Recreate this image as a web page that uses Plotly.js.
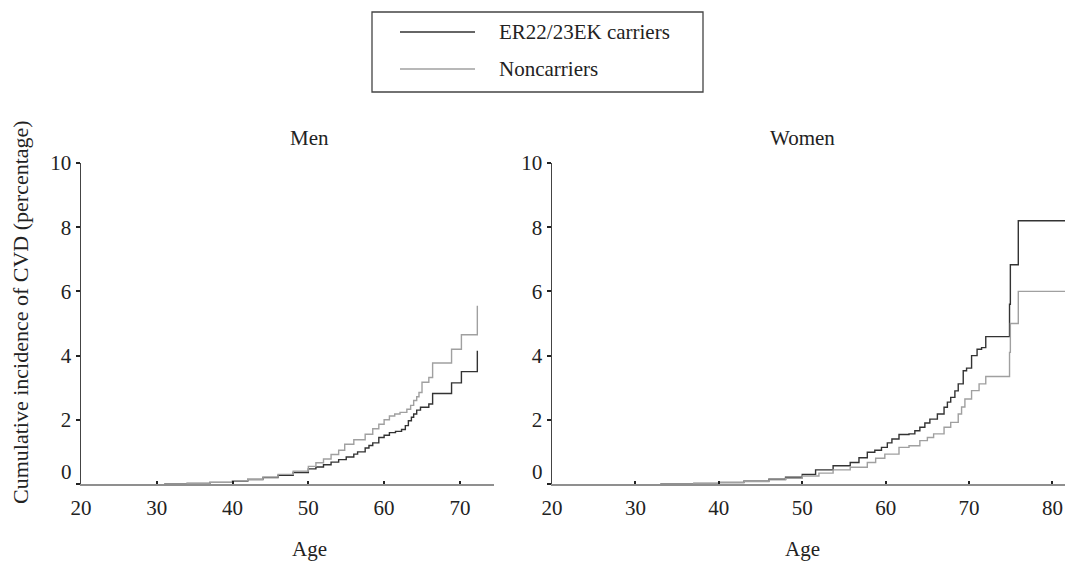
<!DOCTYPE html>
<html>
<head>
<meta charset="utf-8">
<script src="https://cdn.plot.ly/plotly-3.0.1.min.js"></script>
<style>html,body{margin:0;padding:0;background:#fff;}#chart{width:1065px;height:561px;}</style>
</head>
<body>
<div id="chart"></div>
<script>
// ---- Data ----
const seriesNames = ["ER22/23EK carriers", "Noncarriers"];
const panelTitles = ["Men", "Women"];
const yTickVals = [0, 2, 4, 6, 8, 10];
const xTickValsMen = [20, 30, 40, 50, 60, 70];
const xTickValsWomen = [20, 30, 40, 50, 60, 70, 80];

const menCarrierAge = [31, 34, 37, 40, 42, 44, 46, 48, 50, 51, 52, 53, 54, 55, 56, 56.5, 57.5, 58, 58.5, 59.3, 60, 60.7, 61.5, 62.3, 62.8, 63.2, 63.6, 63.9, 64.3, 64.8, 65.9, 66.4, 68.9, 70.2, 72.3];
const menCarrierVal = [0, 0.02, 0.05, 0.09, 0.14, 0.2, 0.27, 0.36, 0.47, 0.53, 0.6, 0.68, 0.76, 0.84, 0.93, 1.0, 1.12, 1.2, 1.28, 1.45, 1.52, 1.6, 1.64, 1.7, 1.82, 1.97, 2.08, 2.18, 2.3, 2.39, 2.49, 2.82, 3.15, 3.5, 4.15];

const menNonAge = [31, 34, 37, 40, 42, 44, 46, 48, 50, 51, 52, 53, 54, 54.8, 56, 57.5, 58.5, 59.3, 60, 60.7, 61.4, 62.1, 63, 63.5, 63.9, 64.3, 64.6, 65, 65.9, 66.4, 68.9, 70.2, 72.3];
const menNonVal = [0, 0.02, 0.05, 0.1, 0.15, 0.22, 0.3, 0.4, 0.55, 0.66, 0.78, 0.92, 1.05, 1.24, 1.38, 1.55, 1.72, 1.86, 2.0, 2.12, 2.18, 2.23, 2.33, 2.45, 2.6, 2.72, 2.85, 3.17, 3.32, 3.77, 4.2, 4.65, 5.55];

const womenCarrierAge = [33, 37, 40, 43, 46, 48, 50, 51.6, 53.7, 55.75, 56.8, 57.8, 58.7, 59.5, 60.2, 60.75, 61.6, 62.8, 63.5, 64.1, 64.7, 65.3, 66.2, 67, 67.4, 67.8, 68.3, 68.7, 69.3, 69.7, 70.3, 70.96, 71.5, 72, 74.85, 74.95, 75.9, 81.5];
const womenCarrierVal = [0, 0.02, 0.05, 0.09, 0.15, 0.21, 0.3, 0.44, 0.57, 0.67, 0.82, 0.99, 1.05, 1.14, 1.28, 1.4, 1.54, 1.56, 1.66, 1.77, 1.9, 2.02, 2.18, 2.39, 2.55, 2.7, 2.9, 3.12, 3.53, 3.61, 4.0, 4.2, 4.25, 4.59, 5.6, 6.83, 8.2, 8.2];

const womenNonAge = [33, 37, 40, 43, 46, 48, 50, 52, 53.7, 55.75, 57.8, 58.8, 59.9, 61.6, 62.8, 64.1, 65, 65.75, 67, 67.8, 68.7, 69.1, 69.5, 70.3, 71.2, 72, 74.85, 74.95, 75.9, 81.5];
const womenNonVal = [0, 0.02, 0.04, 0.08, 0.13, 0.18, 0.25, 0.34, 0.44, 0.52, 0.67, 0.8, 0.93, 1.14, 1.19, 1.35, 1.45, 1.56, 1.77, 1.92, 2.18, 2.4, 2.65, 2.91, 3.12, 3.35, 4.1, 5.0, 6.0, 6.0];

// ---- Layout geometry ----
const W = 1065, H = 561;
const plotTop = 163, plotBottom = 484;
const px = v => v / W;
const py = v => (plotBottom - v) / (plotBottom - plotTop);
const font = "Liberation Serif, Times New Roman, serif";
const textCol = "#222";
const darkCol = "#333333", lightCol = "#a0a0a0";
const fs = 21;

function trace(x, y, col, xa, ya, name) {
  return {x: x, y: y, type: "scatter", mode: "lines", name: name,
    line: {shape: "hv", color: col, width: 1.4}, xaxis: xa, yaxis: ya,
    showlegend: false, hoverinfo: "x+y"};
}

const data = [
  trace(menCarrierAge, menCarrierVal, darkCol, "x", "y", seriesNames[0]),
  trace(menNonAge, menNonVal, lightCol, "x", "y", seriesNames[1]),
  trace(womenCarrierAge, womenCarrierVal, darkCol, "x2", "y2", seriesNames[0]),
  trace(womenNonAge, womenNonVal, lightCol, "x2", "y2", seriesNames[1])
];

function xAxis(domain, range, ticks, anchor) {
  return {anchor: anchor, domain: domain, range: range, tickvals: ticks, ticktext: ticks.map(String),
    showgrid: false, zeroline: false, showline: true, linecolor: "#8f8f8f", linewidth: 1.5,
    ticks: "inside", ticklen: 3, tickwidth: 2, tickcolor: "#222", ticklabelstandoff: 4,
    tickfont: {family: font, size: fs, color: textCol}, fixedrange: true};
}
function yAxis(anchor) {
  return {anchor: anchor, range: [0, 10], tickvals: yTickVals,
    ticktext: yTickVals.map(v => v === 0 ? "" : String(v)),
    showgrid: false, zeroline: false, showline: true, linecolor: "#444", linewidth: 1.5,
    ticks: "outside", ticklen: 4, tickwidth: 2, tickcolor: "#222",
    tickfont: {family: font, size: fs, color: textCol}, fixedrange: true};
}

const leftX0 = 81, leftX1 = 494, rightX0 = 552, rightX1 = 1065;

function ann(text, x, y, xa, ya, extra) {
  return Object.assign({text: text, x: px(x), y: py(y), xref: "paper", yref: "paper",
    xanchor: xa, yanchor: ya, showarrow: false, font: {family: font, size: fs, color: textCol}}, extra || {});
}

const annotations = [
  ann(panelTitles[0], 309, 138, "center", "middle"),
  ann(panelTitles[1], 802, 138, "center", "middle"),
  ann("Age", 309, 549, "center", "middle"),
  ann("Age", 802, 549, "center", "middle"),
  ann("Cumulative incidence of CVD (percentage)", 20, 312, "center", "middle", {textangle: -90, font: {family: font, size: 22, color: textCol}}),
  ann("0", leftX0 - 7, 472, "right", "middle"),
  ann("0", rightX0 - 7, 472, "right", "middle"),
  ann(seriesNames[0], 497, 32, "left", "middle"),
  ann(seriesNames[1], 497, 69, "left", "middle")
];

const shapes = [
  {type: "rect", xref: "paper", yref: "paper", x0: px(372), x1: px(703), y0: py(12), y1: py(92), line: {color: "#444", width: 1.3}},
  {type: "line", xref: "paper", yref: "paper", x0: px(400), x1: px(475), y0: py(32), y1: py(32), line: {color: darkCol, width: 1.4}},
  {type: "line", xref: "paper", yref: "paper", x0: px(400), x1: px(475), y0: py(69), y1: py(69), line: {color: lightCol, width: 1.4}}
];

const layout = {
  width: W, height: H,
  margin: {l: 0, r: 0, t: plotTop, b: H - plotBottom, pad: 0},
  paper_bgcolor: "#fff", plot_bgcolor: "#fff",
  showlegend: false,
  xaxis: xAxis([px(leftX0), px(leftX1)], [20, 74.5], xTickValsMen, "y"),
  yaxis: yAxis("x"),
  xaxis2: xAxis([px(rightX0), px(rightX1)], [20, 81.5], xTickValsWomen, "y2"),
  yaxis2: yAxis("x2"),
  annotations: annotations,
  shapes: shapes
};

Plotly.newPlot("chart", data, layout, {displayModeBar: false, staticPlot: true});
</script>
</body>
</html>
